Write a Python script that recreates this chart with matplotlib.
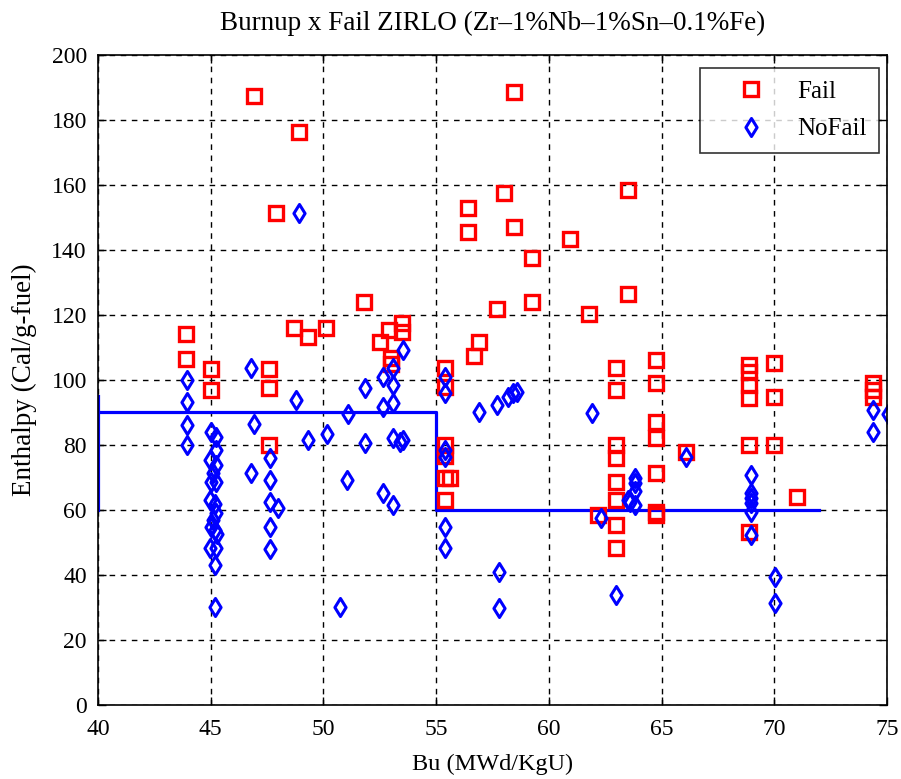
import matplotlib
matplotlib.use("Agg")
import matplotlib.pyplot as plt
from matplotlib.path import Path

plt.rcParams['font.family'] = ['Liberation Serif', 'DejaVu Serif']

# ---------------- data ----------------
fail_bu = [43.9, 43.9, 45.0, 45.0, 46.9, 47.6, 47.6, 47.6, 47.9, 48.7,
           48.9, 49.3, 50.1, 51.8, 52.5, 52.9, 53.0, 53.0, 53.5, 53.5,
           55.4, 55.4, 55.4, 55.4, 55.6, 55.4, 55.4,
           56.4, 56.4, 56.7, 56.9, 57.7, 58.0, 58.45, 58.45, 59.26, 59.26,
           60.94, 61.8, 62.2,
           63.0, 63.0, 63.0, 63.0, 63.0, 63.0, 63.0, 63.0,
           63.5, 63.5,
           64.76, 64.76, 64.76, 64.76, 64.76, 64.76, 64.76,
           66.1,
           68.9, 68.9, 68.9, 68.9, 68.9, 68.9,
           70.0, 70.0, 70.0, 71.0,
           74.4, 74.4, 74.4]
fail_h = [114.0, 106.5, 103.5, 97.0, 187.5, 103.5, 97.5, 80.0, 151.5, 116.0,
          176.3, 113.2, 116.0, 124.0, 111.7, 115.4, 106.8, 105.0, 117.5, 114.8,
          103.7, 97.8, 80.0, 76.5, 69.8, 69.8, 63.0,
          152.9, 145.5, 107.5, 111.7, 121.8, 157.5, 188.6, 147.0, 137.5, 124.0,
          143.4, 120.3, 58.5,
          103.7, 96.9, 80.0, 76.0, 68.6, 63.0, 55.4, 48.3,
          158.5, 126.5,
          106.0, 99.0, 87.0, 82.0, 71.4, 59.5, 58.5,
          77.8,
          104.6, 102.5, 98.5, 94.5, 80.0, 53.2,
          105.3, 94.8, 80.0, 64.0,
          99.0, 96.9, 94.8]

nofail_bu = [43.93, 43.93, 43.93, 43.93,
             45.0, 45.25, 45.25, 44.95, 45.25, 45.1, 45.0, 45.25, 44.95, 45.2,
             45.25, 45.1, 45.0, 45.2, 45.3, 44.95, 45.25, 45.2, 45.2,
             46.77, 46.77, 46.9,
             47.63, 47.63, 47.63, 47.63, 47.63, 48.0,
             48.78, 48.92, 49.3, 50.15, 50.73, 51.1, 51.06, 51.85, 51.85,
             52.65, 52.65, 52.65, 53.1, 53.1, 53.1, 53.1, 53.1, 53.4, 53.55, 53.55,
             55.4, 55.4, 55.4, 55.4, 55.4, 55.4,
             56.9, 57.7, 58.2, 58.4, 58.6, 57.8, 57.8,
             61.9, 62.3, 63.0,
             63.8, 63.8, 63.8, 63.5, 63.8, 63.6,
             66.1,
             68.97, 68.97, 68.97, 68.97, 68.97, 68.97,
             70.04, 70.04,
             74.4, 74.4, 75.06]
nofail_h = [100.0, 93.3, 86.2, 80.0,
            84.1, 82.6, 78.5, 75.4, 73.8, 71.4, 68.6, 68.5, 63.0, 62.0,
            59.0, 57.0, 54.8, 53.8, 52.5, 48.3, 48.3, 43.1, 30.2,
            103.7, 71.4, 86.5,
            76.0, 69.2, 62.5, 54.8, 48.0, 60.6,
            93.8, 151.4, 81.5, 83.4, 30.2, 89.5, 69.2, 97.5, 80.6,
            101.0, 91.7, 65.2, 61.5, 103.7, 98.5, 92.9, 82.2, 81.0, 81.5, 109.2,
            101.0, 96.0, 78.5, 76.3, 54.8, 48.3,
            90.2, 92.3, 94.8, 96.0, 96.3, 40.9, 29.8,
            89.8, 57.5, 33.8,
            69.8, 68.3, 66.0, 63.0, 61.5, 62.5,
            76.3,
            70.8, 65.2, 63.7, 62.1, 59.4, 52.3,
            39.4, 31.4,
            90.8, 84.0, 89.5]

# threshold curve
thr_bu = [40, 55, 55, 72]
thr_h = [90, 90, 60, 60]
thr_edge_bu = [40, 40]
thr_edge_h = [60, 95]

x_ticks = [40, 45, 50, 55, 60, 65, 70, 75]
y_ticks = [0, 20, 40, 60, 80, 100, 120, 140, 160, 180, 200]

# MATLAB-like diamond marker
diamond = Path([(0, 1), (0.62, 0), (0, -1), (-0.62, 0), (0, 1)],
               [Path.MOVETO, Path.LINETO, Path.LINETO, Path.LINETO, Path.CLOSEPOLY])

# ---------------- plot ----------------
fig = plt.figure(figsize=(9.01, 7.79), dpi=100)
ax = fig.add_axes([98/901, 74/779, 789/901, 650/779])

ax.plot(thr_bu, thr_h, color='#0000FF', lw=2.3, zorder=3)
ax.plot(thr_edge_bu, thr_edge_h, color='#0000FF', lw=2.3, zorder=3)

ax.plot(fail_bu, fail_h, linestyle='none', marker='s', markersize=10.5,
        markerfacecolor='none', markeredgecolor='#FF0000', markeredgewidth=2.4,
        zorder=4, label='Fail')
ax.plot(nofail_bu, nofail_h, linestyle='none', marker=diamond, markersize=13,
        markerfacecolor='none', markeredgecolor='#0000FF', markeredgewidth=2.2,
        zorder=5, label='NoFail')

ax.set_xlim(40, 75)
ax.set_ylim(0, 200)
ax.set_xticks(x_ticks)
ax.set_yticks(y_ticks)
ax.tick_params(direction='in', top=True, right=True, length=6, width=1,
               labelsize=17, colors='black')
ax.tick_params(axis='x', pad=10)
ax.tick_params(axis='y', pad=8)
ax.grid(True, color='black', linestyle=(0, (4, 4)), linewidth=1.0)
ax.set_axisbelow(True)
for s in ax.spines.values():
    s.set_linewidth(1.2)
    s.set_zorder(6)

ax.set_title('Burnup x Fail ZIRLO (Zr\u20131%Nb\u20131%Sn\u20130.1%Fe)', fontsize=19.5, pad=18)
ax.set_xlabel('Bu (MWd/KgU)', fontsize=17.5, labelpad=10)
ax.set_ylabel('Enthalpy (Cal/g-fuel)', fontsize=19.5, labelpad=10)

leg = ax.legend(loc='upper right', bbox_to_anchor=(0.99, 0.98), fontsize=18,
                frameon=True, fancybox=False, edgecolor='black',
                handlelength=3.15, handletextpad=0.25, borderpad=0.5,
                labelspacing=0.6, borderaxespad=0.0)
leg.get_frame().set_linewidth(1.2)
leg.set_zorder(10)

fig.savefig('out.png', dpi=100)
